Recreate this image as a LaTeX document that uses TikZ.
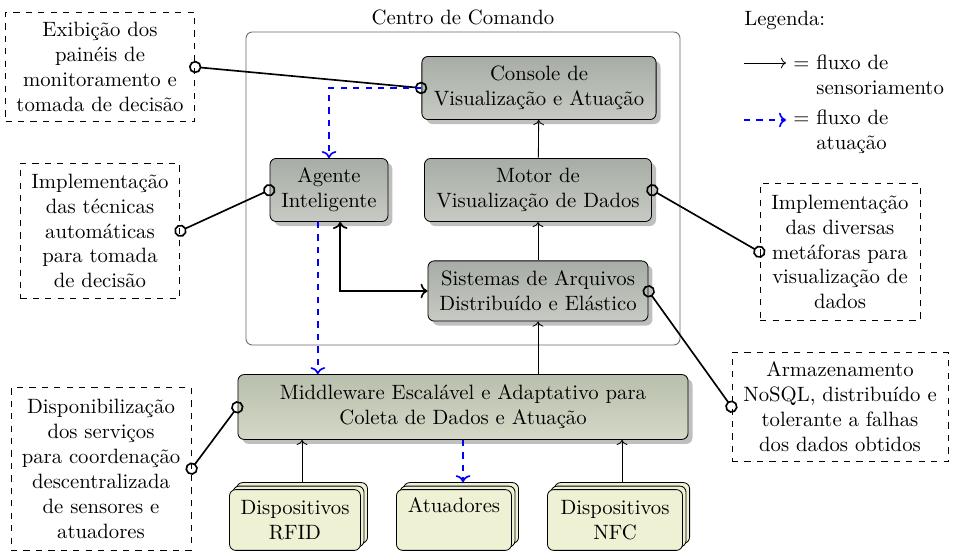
\documentclass[tikz,border=0pt]{standalone}
\usepackage{xcolor}
\usepackage{tikz}
\usetikzlibrary{arrows.meta, positioning, calc, shadows}
\definecolor{cinzatopo}{HTML}{A7ADA6}
\definecolor{cinzabase}{HTML}{C6CAC2}
\definecolor{mwtopo}{HTML}{B8BFAD}
\definecolor{mwbase}{HTML}{D5D8C6}
\definecolor{dispfill}{HTML}{EEF1D3}

\begin{document}
\begin{tikzpicture}[x=0.01695cm, y=-0.01695cm,
  bloco/.style={draw, rounded corners=3pt, align=center, top color=cinzatopo, bottom color=cinzabase, drop shadow, minimum height=1.07cm},
  disp/.style={draw, rounded corners=3pt, align=center, fill=dispfill, minimum height=1.03cm, double copy shadow={shadow xshift=1.7pt, shadow yshift=1.7pt, fill=dispfill}},
  nota/.style={draw, dashed, align=center, inner xsep=5pt},
  liga/.style={{Circle[open,length=6pt]}-{Circle[open,length=6pt]}, thick, shorten <=-2.8pt, shorten >=-2.8pt},
  sensor/.style={->},
  atua/.style={->, blue, thick, dashed}]
  \useasboundingbox (0,0) rectangle (954,556);

  % centro de comando
  \draw[black!60, rounded corners=3pt] (246,32) rectangle (680,345);
  \node (centro) at (463,17) {Centro de Comando};
  \node[bloco, minimum width=3.97cm] (console) at (539,88) {Console de\\Visualização e Atuação};
  \node[bloco, minimum width=3.85cm] (motor) at (538,190) {Motor de\\Visualização de Dados};
  \node[bloco, minimum width=2.0cm] (agente) at (329,190) {Agente\\Inteligente};
  \node[bloco, minimum width=3.73cm, minimum height=1.02cm] (arquivos) at (538,291) {Sistemas de Arquivos\\Distribuído e Elástico};

  % middleware e dispositivos
  \node[bloco, top color=mwtopo, bottom color=mwbase, minimum width=7.63cm, minimum height=1.10cm] (middleware) at (463,407) {Middleware Escalável e Adaptativo para\\Coleta de Dados e Atuação};
  \node[disp, minimum width=2.22cm] (rfid) at (295,520) {Dispositivos\\RFID};
  \node[disp, minimum width=1.95cm] (atuadores) at (454,520) {Atuadores\\\phantom{Ag}};
  \node[disp, minimum width=2.29cm] (nfc) at (615,520) {Dispositivos\\NFC};

  % notas
  \node[nota, minimum width=3.20cm, minimum height=1.85cm] (exibicao) at (100,67) {Exibição dos\\painéis de\\monitoramento e\\tomada de decisão};
  \node[nota, minimum width=2.70cm, minimum height=2.29cm] (tecnicas) at (100,231) {Implementação\\das técnicas\\automáticas\\para tomada\\de decisão};
  \node[nota, minimum width=3.05cm, minimum height=2.75cm] (servicos) at (101,469) {Disponibilização\\dos serviços\\para coordenação\\descentralizada\\de sensores e\\atuadores};
  \node[nota, minimum width=2.71cm, minimum height=2.32cm] (metaforas) at (840,252) {Implementação\\das diversas\\metáforas para\\visualização de\\dados};
  \node[nota, minimum width=3.66cm, minimum height=1.85cm] (nosql) at (840,407) {Armazenamento\\NoSQL, distribuído e\\tolerante a falhas\\dos dados obtidos};

  \draw[liga] (exibicao.east) -- (console.west);
  \draw[liga] (tecnicas.east) -- (agente.west);
  \draw[liga] (servicos.east) -- (middleware.west);
  \draw[liga] (motor.east) -- (metaforas.west);
  \draw[liga] (arquivos.east) -- (nosql.west);

  % fluxos
  \coordinate (agbaixo) at ([xshift=-0.19cm]agente.south);
  \coordinate (rfidtopo) at ([shift={(3.4pt,3.4pt)}]rfid.north);
  \coordinate (atutopo) at ([shift={(3.4pt,3.4pt)}]atuadores.north);
  \coordinate (nfctopo) at ([shift={(3.4pt,3.4pt)}]nfc.north);
  \draw[sensor] (motor) -- (console);
  \draw[sensor] (arquivos) -- (motor);
  \draw[sensor] (middleware.north -| arquivos) -- (arquivos);
  \draw[sensor, thick, <->] ([xshift=0.19cm]agente.south) |- (arquivos.west);
  \draw[sensor] (rfidtopo) -- (rfidtopo |- middleware.south);
  \draw[sensor] (nfctopo) -- (nfctopo |- middleware.south);
  \draw[atua] (console.west) -| (agente.north);
  \draw[atua] (agbaixo) -- (agbaixo |- middleware.north);
  \draw[atua] (middleware.south) -- (middleware.south |- atutopo);

  % legenda
  \node[anchor=west] (legenda) at (737,20) {Legenda:};
  \coordinate (s1) at (744,63);
  \coordinate (s2) at (786,63);
  \coordinate (a1) at (744,120);
  \coordinate (a2) at (786,120);
  \draw[sensor] (s1) -- (s2);
  \draw[atua] (a1) -- (a2);
  \node[anchor=west, align=left] (legsensor) at (786,75) {$=$ fluxo de\\\hphantom{$=$ }sensoriamento};
  \node[anchor=west, align=left] (legatua) at (786,132) {$=$ fluxo de\\\hphantom{$=$ }atuação};
\end{tikzpicture}
\end{document}
